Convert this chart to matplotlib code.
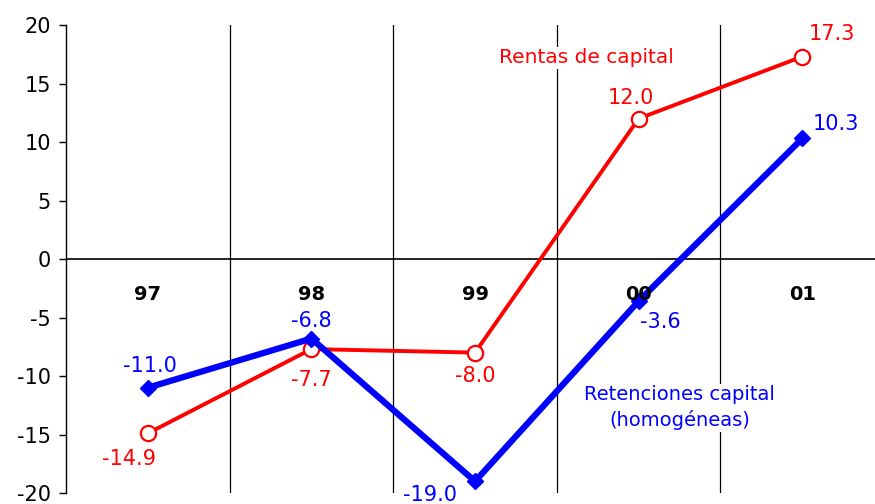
import matplotlib
matplotlib.use('Agg')
import matplotlib.pyplot as plt

# Data
years = ['97', '98', '99', '00', '01']
rentas = [-14.9, -7.7, -8.0, 12.0, 17.3]
retenciones = [-11.0, -6.8, -19.0, -3.6, 10.3]
yticks = [-20, -15, -10, -5, 0, 5, 10, 15, 20]

# label offsets in pixels (dx, dy) for each point
rentas_off = [(-19, -26), (0, -31), (0, -23), (-8, 21), (30, 23)]
reten_off = [(2, 22), (0, 18), (-45, -14), (22, -21), (34, 14)]

fig = plt.figure(figsize=(8.75, 5.04), dpi=100)
ax = fig.add_axes([0.0754, 0.0218, 0.935, 0.9286])

x = list(range(len(years)))

# zero line and category separators
ax.axhline(0, color='black', lw=1.2, zorder=1)
for xs in [0.5, 1.5, 2.5, 3.5]:
    ax.axvline(xs, color='black', lw=0.9, zorder=1)

ax.plot(x, rentas, color='#ff0000', lw=2.8, marker='o', ms=11,
        mfc='white', mec='#ff0000', mew=1.6, zorder=3)
ax.plot(x, retenciones, color='#0000ff', lw=4.5, marker='D', ms=8,
        mfc='#0000ff', mec='#0000ff', zorder=4)

for xi, v, (dx, dy) in zip(x, rentas, rentas_off):
    ax.annotate(f'{v:.1f}', (xi, v), xytext=(dx, dy), textcoords='offset pixels',
                ha='center', va='center', color='#ff0000', fontsize=15, zorder=6)
for xi, v, (dx, dy) in zip(x, retenciones, reten_off):
    ax.annotate(f'{v:.1f}', (xi, v), xytext=(dx, dy), textcoords='offset pixels',
                ha='center', va='center', color='#0000ff', fontsize=15, zorder=6)

# category labels inside the plot, under the zero line
for xi, lab in zip(x, years):
    ax.text(xi, -3.0, lab, ha='center', va='center', fontsize=14,
            fontweight='bold', zorder=5)

# series labels
ax.text(2.68, 17.2, 'Rentas de capital', ha='center', va='center', color='#ff0000',
        fontsize=14.5, zorder=5,
        bbox=dict(facecolor='white', edgecolor='none', pad=1))
ax.text(3.25, -12.7, 'Retenciones capital\n(homogéneas)', ha='center', va='center',
        color='#0000ff', fontsize=14, linespacing=1.4, zorder=5,
        bbox=dict(facecolor='white', edgecolor='none', pad=1))

ax.set_xlim(-0.5, 4.5)
ax.set_ylim(-20, 20)
ax.set_yticks(yticks)
ax.set_yticklabels([str(t) for t in yticks], fontsize=15)
ax.set_xticks([])
ax.tick_params(axis='y', length=5, width=1, pad=6)
for s in ['top', 'right', 'bottom']:
    ax.spines[s].set_visible(False)
ax.spines['left'].set_linewidth(1)

fig.savefig('out.png', dpi=100)
